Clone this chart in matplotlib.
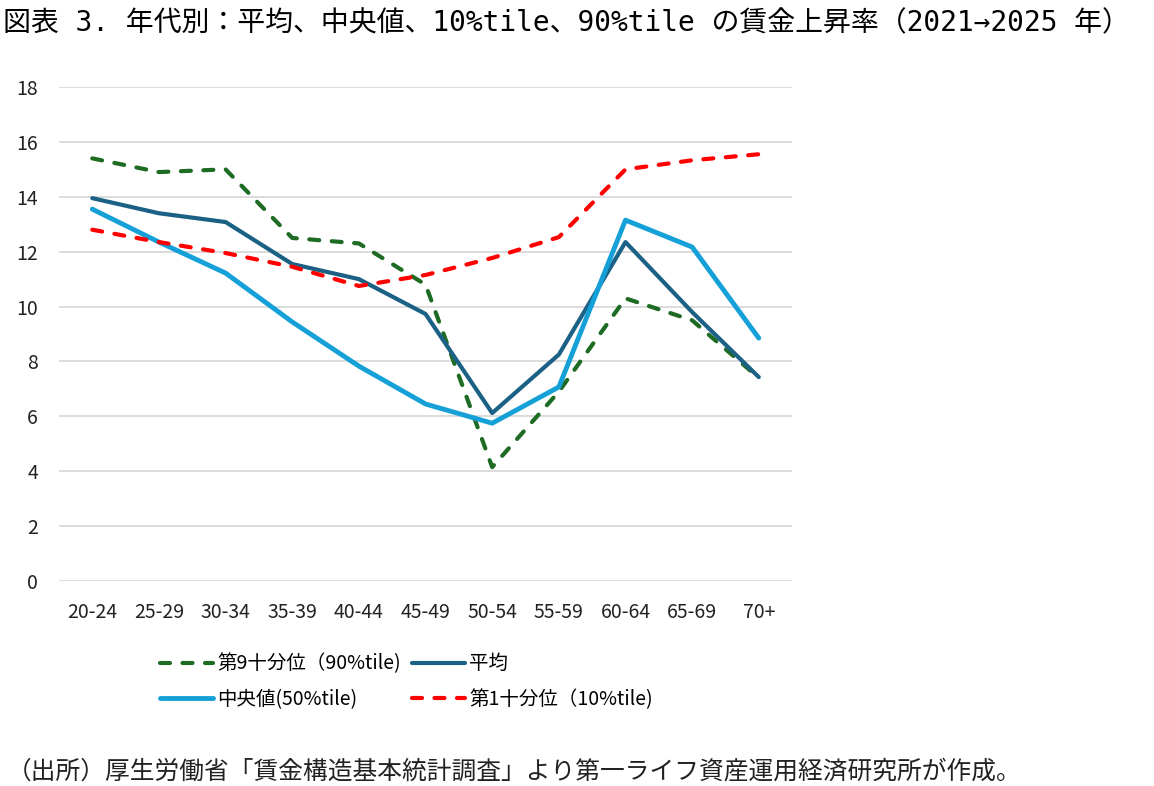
import matplotlib.pyplot as plt

plt.rcParams['font.family'] = ['Noto Sans CJK JP', 'DejaVu Sans']

ages = ["20-24", "25-29", "30-34", "35-39", "40-44", "45-49",
        "50-54", "55-59", "60-64", "65-69", "70+"]
p90 = [15.4, 14.9, 15.0, 12.5, 12.3, 10.8, 4.15, 6.9, 10.3, 9.5, 7.4]
mean = [13.95, 13.4, 13.08, 11.55, 11.0, 9.73, 6.12, 8.25, 12.35, 9.8, 7.43]
median = [13.55, 12.35, 11.22, 9.44, 7.83, 6.45, 5.75, 7.07, 13.15, 12.17, 8.85]
p10 = [12.8, 12.35, 11.95, 11.45, 10.75, 11.15, 11.77, 12.53, 15.0, 15.33, 15.55]

title = "図表 3. 年代別：平均、中央値、10%tile、90%tile の賃金上昇率（2021→2025 年）"
source = "（出所）厚生労働省「賃金構造基本統計調査」より第一ライフ資産運用経済研究所が作成。"

fig = plt.figure(figsize=(11.54, 7.86), dpi=100)
ax = fig.add_axes([0.0511, 0.2608, 0.6353, 0.6285])

x = list(range(len(ages)))
lw = 3.0
dash = (2.4, 3.0)
ax.plot(x, p90, color="#1e6b24", lw=lw, dashes=dash, dash_capstyle="round",
        label="第9十分位（90%tile)")
ax.plot(x, mean, color="#1b6186", lw=lw, solid_capstyle="round", label="平均")
ax.plot(x, median, color="#15a1d8", lw=lw + 0.5, solid_capstyle="round", label="中央値(50%tile)")
ax.plot(x, p10, color="#ff0000", lw=lw, dashes=dash, dash_capstyle="round",
        label="第1十分位（10%tile)")

ax.set_xlim(-0.5, len(ages) - 0.5)
ax.set_ylim(0, 18)
ax.set_yticks(range(0, 19, 2))
ax.set_xticks(x)
ax.set_xticklabels(ages)
ax.grid(axis="y", color="#d9d9d9", lw=1.3)
ax.set_axisbelow(True)
for s in ax.spines.values():
    s.set_visible(False)
ax.tick_params(length=0, labelsize=14, colors="#222222")
ax.tick_params(axis="y", pad=15)
ax.tick_params(axis="x", pad=15)

handles, labels = ax.get_legend_handles_labels()
order = [0, 2, 1, 3]
fig.legend([handles[i] for i in order], [labels[i] for i in order], ncol=2,
           loc="upper left", bbox_to_anchor=(0.1235, 0.191), frameon=False,
           fontsize=14, handlelength=2.75, handletextpad=0.2, columnspacing=0.55,
           labelspacing=0.75)

fig.text(0.003, 0.970, title, fontsize=20.1, va="center", ha="left",
         family=['DejaVu Sans Mono', 'Noto Sans CJK JP'])
fig.text(0.006, 0.018, source, fontsize=17.8, va="center", ha="left", color="#222222")

fig.savefig("out.png", dpi=100)
